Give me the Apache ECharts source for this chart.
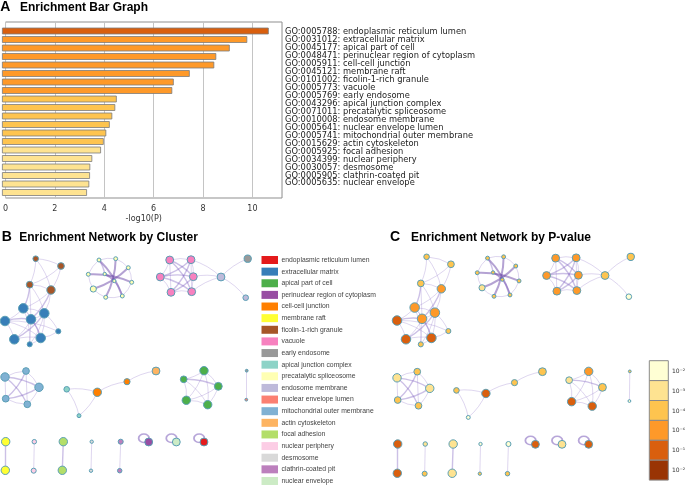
<!DOCTYPE html>
<html><head><meta charset="utf-8">
<script src="https://cdn.jsdelivr.net/npm/echarts@6/dist/echarts.min.js"></script>
<style>html,body{margin:0;padding:0;background:#fff}#c{width:685px;height:486px}</style>
</head><body><div id="c"></div>
<script>
// ---------- Panel A data ----------
const goTerms = [
 'GO:0005788: endoplasmic reticulum lumen','GO:0031012: extracellular matrix','GO:0045177: apical part of cell',
 'GO:0048471: perinuclear region of cytoplasm','GO:0005911: cell-cell junction','GO:0045121: membrane raft',
 'GO:0101002: ficolin-1-rich granule','GO:0005773: vacuole','GO:0005769: early endosome',
 'GO:0043296: apical junction complex','GO:0071011: precatalytic spliceosome','GO:0010008: endosome membrane',
 'GO:0005641: nuclear envelope lumen','GO:0005741: mitochondrial outer membrane','GO:0015629: actin cytoskeleton',
 'GO:0005925: focal adhesion','GO:0034399: nuclear periphery','GO:0030057: desmosome',
 'GO:0005905: clathrin-coated pit','GO:0005635: nuclear envelope'];
const logP = [10.67,9.81,9.11,8.57,8.49,7.51,6.87,6.81,4.59,4.53,4.41,4.31,4.17,4.07,3.96,3.61,3.53,3.52,3.49,3.40];
const xTickStep = 2, xMax = 11.2;

// ---------- P-value bins ----------
const pBinLabels = ['10\u207B\u00B2','10\u207B\u00B3','10\u207B\u2074','10\u207B\u2076','10\u207B\u00B9\u2070','10\u207B\u00B2\u2070'];
const pBinThresholds = [2,3,4,6,10,20];
const pBinColors = ['#ffffd4','#fee391','#fec44f','#fe9929','#d95f0e','#993404'];

// ---------- Clusters ----------
const clusterNames = ['endoplasmic reticulum lumen','extracellular matrix','apical part of cell','perinuclear region of cytoplasm',
 'cell-cell junction','membrane raft','ficolin-1-rich granule','vacuole','early endosome','apical junction complex',
 'precatalytic spliceosome','endosome membrane','nuclear envelope lumen','mitochondrial outer membrane','actin cytoskeleton',
 'focal adhesion','nuclear periphery','desmosome','clathrin-coated pit','nuclear envelope'];
const clusterColors = ['#e41a1c','#377eb8','#4daf4a','#984ea3','#ff7f00','#ffff33','#a65628','#f781bf','#999999','#8dd3c7',
 '#ffffb3','#bebada','#fb8072','#80b1d3','#fdb462','#b3de69','#fccde5','#d9d9d9','#bc80bd','#ccebc5'];

// ---------- Network nodes (layout coordinates) ----------
const nodeX = [35.7,61,29.7,51,23.3,44.3,5,31,58.3,14.3,40.7,29.7,
 99,115.7,128.3,88.3,104.7,114.3,131.7,93.3,105.7,122.3,
 169.7,191,160.3,193.3,171,191.7,221,247.7,245.7,
 5,26,39,5.7,27.3,
 66.7,97.3,79,127,156,
 204,183.7,218.3,186.3,207.7,
 246.7,246.3,
 5.7,5.3,34.3,33.7,63.3,62.3,91.7,91,120.7,119.7,148.7,176.3,204];
const nodeY = [258.7,266,284.7,290,308.3,313.3,321,319.3,331.3,339.3,338,344.3,
 260,258.7,267.7,274.3,274,281,282.3,289,297.3,296,
 260,259.7,277,276.7,292.3,291.7,277,258.7,297.7,
 377,371,387.3,398.7,404.3,
 389.3,392.3,415.7,381.7,371,
 370.7,379.3,386.3,400.3,404.7,
 370.7,399.7,
 441.7,470.3,441.7,470.7,441.7,470.3,441.7,470.7,441.7,470.7,442,442,442];
const nodeSize = [5,6,6,7.5,8.5,8.5,8.5,8.5,4.5,8.5,8.5,4.5,
 3.5,3.5,3.5,3.5,3,3,3.5,5.5,3.5,3.5,
 7,7,7,7,7,7,7,6.5,5,
 7.5,6,7.5,6,6,
 5,7.5,3.5,5.5,7,
 7.5,6,7,7.5,7.5,
 2.5,2.5,
 7.5,7.5,4,4.5,7.5,7.5,3,3,4.5,4,7,7,7];
const nodeCluster = [6,6,6,6,1,1,1,1,1,1,1,1,
 10,10,10,10,10,10,10,10,10,10,
 7,7,7,7,7,7,11,8,11,
 13,13,13,13,13,
 9,4,9,4,14,
 2,2,2,2,2,
 8,12,
 5,5,16,16,15,15,17,17,18,18,3,19,0];
const nodeBin = [2,2,2,3,3,3,4,3,2,4,4,2,
 2,2,2,2,2,2,2,1,2,2,
 3,3,3,3,3,3,2,2,0,
 1,2,1,2,2,
 2,4,0,2,2,
 3,1,2,4,4,
 2,0,
 4,4,1,2,1,1,0,2,0,2,4,1,4];
const selfLoopNodes = [58,59,60];
// edges: [source, target, strength]
const edges = [
 [0,1,1],[0,2,1],[0,3,1],[1,2,1],[1,3,1],[2,3,1],[2,4,2],[2,5,1],[3,4,1],[3,7,2],[3,5,1],[2,7,1],
 [4,5,1],[4,6,1],[4,7,1],[4,10,1],[5,7,1],[5,8,1],[5,9,2],[5,10,1],[6,7,2],[6,9,1],[6,10,1],[7,9,1],
 [7,10,2],[7,11,1],[8,10,1],[9,10,1],[10,11,1],[4,11,1],[6,8,1],[5,11,1],
 [12,13,1],[13,14,1],[14,18,1],[18,21,1],[21,20,1],[20,19,1],[19,15,1],[15,12,1],
 [12,21,3],[13,20,3],[14,19,3],[15,18,3],[16,17,3],[12,16,2],[17,21,2],
 [22,23,1],[22,24,1],[22,25,2],[22,26,1],[22,27,2],[23,24,2],[23,25,1],[23,26,2],[23,27,1],
 [24,25,2],[24,26,1],[24,27,2],[25,26,2],[25,27,1],[26,27,1],[23,28,1],[25,28,1],[27,28,1],[28,29,1],[28,30,1],
 [31,32,1],[32,33,1],[33,35,1],[35,34,1],[34,31,1],[31,33,2],[31,35,2],[32,34,2],[32,35,1],[33,34,2],
 [36,37,1],[36,38,1],[37,38,1],[37,39,1],[39,40,1],
 [41,42,1],[41,43,1],[41,44,1],[41,45,1],[42,43,2],[42,44,1],[42,45,1],[43,44,1],[43,45,1],[44,45,1],
 [46,47,1],[48,49,2],[50,51,1],[52,53,2],[54,55,1],[56,57,1]];

// ---------- helpers ----------
const sizeScale = 1.12;
function binOf(v){ let b=-1; pBinThresholds.forEach((t,i)=>{ if(v>=t) b=i; }); return Math.max(0,b); }
const edgeStyles = {
  1:{color:'rgba(155,130,205,0.65)', width:1},
  2:{color:'rgba(125,95,190,0.78)', width:1.4},
  3:{color:'#6a46a8', width:2}
};
function makeLinks(){
  return edges.map(e=>{
    const dx = Math.abs(nodeX[e[0]]-nodeX[e[1]]);
    return {source:e[0], target:e[1], lineStyle:Object.assign({curveness: dx<2?0:0.12}, edgeStyles[e[2]])};
  });
}
const FONT_D = 'DejaVu Sans';
const FONT_L = 'Liberation Sans';

const chart = echarts.init(document.getElementById('c'), null, {renderer:'canvas'});

const hiddenVal = (grid, min, max, inverse)=>({type:'value', gridIndex:grid, min, max, inverse:!!inverse, show:false});
const loopSeries = (axis)=>({type:'scatter', xAxisIndex:axis, yAxisIndex:axis, silent:true, z:1,
     data:selfLoopNodes.map(i=>[nodeX[i],nodeY[i]]), symbol:'circle', symbolSize:[10.5,8.5], symbolOffset:[-4.8,-3.8],
     itemStyle:{color:'rgba(0,0,0,0)', borderColor:'rgba(150,125,200,0.85)', borderWidth:1.6}});

const option = {
  animation:false,
  backgroundColor:'#fff',
  grid:[
    {left:2, top:22, width:280, height:176, show:true, borderColor:'#8f8f8f', borderWidth:1, backgroundColor:'transparent'},
    {left:2, top:26.75, width:280, height:170},
    {left:2, top:28.3, width:280, height:159},
    {left:0, top:250, width:255, height:230},
    {left:392.2, top:247.9, width:245.6, height:235.3}
  ],
  xAxis:[
    {type:'value', gridIndex:0, min:0, max:xMax, interval:xTickStep,
     axisLine:{show:false}, axisTick:{show:false},
     splitLine:{show:true, lineStyle:{color:'#c4c4c4', width:1}},
     axisLabel:{fontSize:8, color:'#333', margin:7, fontFamily:FONT_D, showMaxLabel:false},
     name:'-log10(P)', nameLocation:'middle', nameGap:17,
     nameTextStyle:{fontSize:8, color:'#333', fontFamily:FONT_D}},
    hiddenVal(1,0,xMax),
    hiddenVal(2,0,xMax),
    hiddenVal(3,0,255),
    hiddenVal(4,0,255)
  ],
  yAxis:[
    hiddenVal(0,0,1),
    {type:'category', gridIndex:1, data:goTerms, inverse:true, show:false},
    {type:'category', gridIndex:2, data:goTerms, inverse:true, position:'right',
     axisLine:{show:false}, axisTick:{show:false}, splitLine:{show:false},
     axisLabel:{fontSize:8.3, color:'#222', margin:3, fontFamily:FONT_D, interval:0}},
    hiddenVal(3,250,480,true),
    hiddenVal(4,250,480,true)
  ],
  legend:{
    orient:'vertical', left:261.5, top:256, padding:0,
    data:clusterNames, icon:'rect', itemWidth:16.5, itemHeight:8, itemGap:3.63,
    selectedMode:false,
    itemStyle:{borderWidth:0},
    textStyle:{fontSize:6.8, color:'#444', fontFamily:FONT_L, lineHeight:8, padding:[0,0,0,-1.5]}
  },
  series:[
    {type:'bar', xAxisIndex:1, yAxisIndex:1, barWidth:6.8, silent:true,
     data:logP.map(v=>({value:v, itemStyle:{color:pBinColors[binOf(v)]}})),
     itemStyle:{borderColor:'#7c7c7c', borderWidth:0.8}},
    loopSeries(3),
    loopSeries(4),
    {type:'graph', name:'cluster', layout:'none', coordinateSystem:'cartesian2d', xAxisIndex:3, yAxisIndex:3, silent:true, z:3,
     categories:clusterNames.map((n,i)=>({name:n, itemStyle:{color:clusterColors[i]}})),
     data:nodeX.map((x,i)=>({name:'b'+i, value:[x,nodeY[i]], symbolSize:nodeSize[i]*sizeScale, category:nodeCluster[i]})),
     links:makeLinks(),
     itemStyle:{borderColor:'#5a9fb5', borderWidth:1},
     label:{show:false}},
    {type:'graph', name:'pvalue', layout:'none', coordinateSystem:'cartesian2d', xAxisIndex:4, yAxisIndex:4, silent:true, z:3,
     data:nodeX.map((x,i)=>({name:'c'+i, value:[x,nodeY[i]], symbolSize:nodeSize[i]*sizeScale, itemStyle:{color:pBinColors[nodeBin[i]]}})),
     links:makeLinks(),
     itemStyle:{borderColor:'#5a9fb5', borderWidth:1},
     label:{show:false}}
  ],
  graphic:[
    {type:'text', x:0.3, y:7.4, style:{text:'A', font:'bold 14px "Liberation Sans"', fill:'#000', verticalAlign:'middle'}},
    {type:'text', x:20, y:8.1, style:{text:'Enrichment Bar Graph', font:'bold 12px "Liberation Sans"', fill:'#000', verticalAlign:'middle'}},
    {type:'text', x:1.7, y:237.4, style:{text:'B', font:'bold 14px "Liberation Sans"', fill:'#000', verticalAlign:'middle'}},
    {type:'text', x:19.2, y:237.7, style:{text:'Enrichment Network by Cluster', font:'bold 12px "Liberation Sans"', fill:'#000', verticalAlign:'middle'}},
    {type:'text', x:390, y:237.4, style:{text:'C', font:'bold 14px "Liberation Sans"', fill:'#000', verticalAlign:'middle'}},
    {type:'text', x:411, y:237.7, style:{text:'Enrichment Network by P-value', font:'bold 12px "Liberation Sans"', fill:'#000', verticalAlign:'middle'}}
  ].concat(pBinColors.map((c,i)=>({type:'rect', shape:{x:649.3, y:360.7+i*19.9, width:19, height:19.9},
      style:{fill:c, stroke:'#8a8a8a', lineWidth:1}})))
   .concat(pBinLabels.map((t,i)=>({type:'text', x:672, y:360.7+i*19.9+10.5,
      style:{text:t, font:'6px "DejaVu Sans"', fill:'#333', verticalAlign:'middle'}})))
};
chart.setOption(option);
</script></body></html>
